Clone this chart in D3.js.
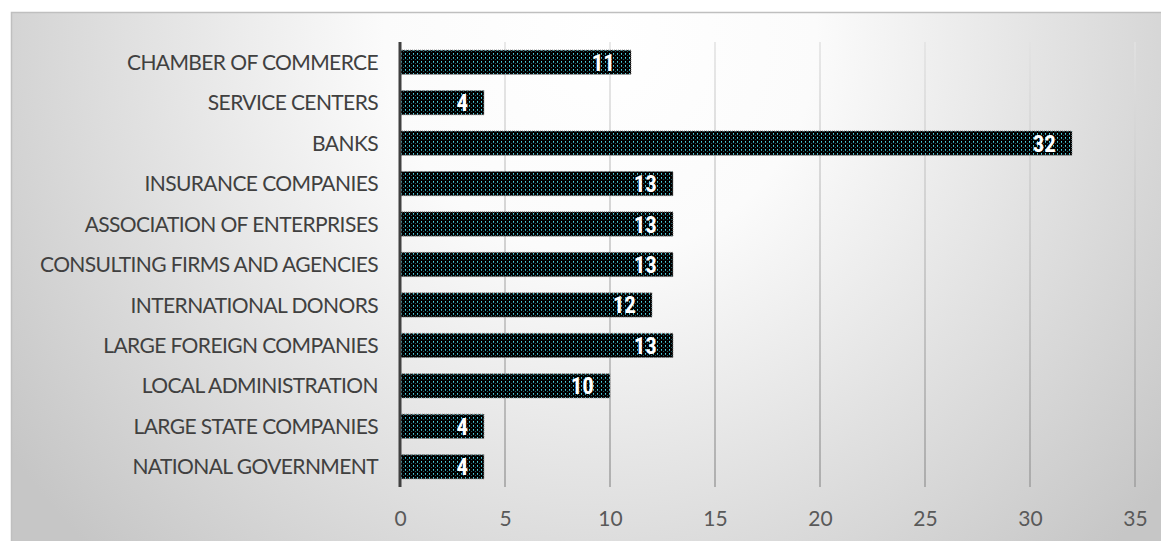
<!DOCTYPE html>
<html>
<head>
<meta charset="utf-8">
<script src="https://cdn.jsdelivr.net/npm/d3@7/dist/d3.min.js"></script>
<style>
  html, body { margin: 0; padding: 0; background: #ffffff; }
  svg { display: block; }
</style>
</head>
<body>
<svg id="chart" width="1161" height="541"></svg>
<script>
// Organisations and their counts, listed top to bottom
const categories = [
  "CHAMBER OF COMMERCE",
  "SERVICE CENTERS",
  "BANKS",
  "INSURANCE COMPANIES",
  "ASSOCIATION OF ENTERPRISES",
  "CONSULTING FIRMS AND AGENCIES",
  "INTERNATIONAL DONORS",
  "LARGE FOREIGN COMPANIES",
  "LOCAL ADMINISTRATION",
  "LARGE STATE COMPANIES",
  "NATIONAL GOVERNMENT"
];
const values = [11, 4, 32, 13, 13, 13, 12, 13, 10, 4, 4];
const xTicks = [0, 5, 10, 15, 20, 25, 30, 35];

const svg = d3.select("#chart");
const W = 1161, H = 541;
const font = "Lato, 'Open Sans', sans-serif";
const narrow = "'Liberation Sans Narrow', 'Roboto Condensed', Lato, sans-serif";

const defs = svg.append("defs");

// Soft radial shading of the chart area
const bg = defs.append("radialGradient")
  .attr("id", "bgGrad")
  .attr("gradientUnits", "userSpaceOnUse")
  .attr("cx", 600).attr("cy", 40).attr("r", 720);
bg.append("stop").attr("offset", 0).attr("stop-color", "#ffffff");
bg.append("stop").attr("offset", 0.3).attr("stop-color", "#fbfbfb");
bg.append("stop").attr("offset", 1).attr("stop-color", "#c6c6c6");

// Gridlines darken toward the bottom
const gg = defs.append("linearGradient")
  .attr("id", "gridGrad")
  .attr("gradientUnits", "userSpaceOnUse")
  .attr("x1", 0).attr("y1", 42).attr("x2", 0).attr("y2", 487);
gg.append("stop").attr("offset", 0).attr("stop-color", "#e2e2e2");
gg.append("stop").attr("offset", 1).attr("stop-color", "#9e9e9e");

// Dotted fill for bars: black with teal grid dots
const pat = defs.append("pattern")
  .attr("id", "dots")
  .attr("patternUnits", "userSpaceOnUse")
  .attr("width", 4).attr("height", 4);
pat.append("rect").attr("width", 4).attr("height", 4).attr("fill", "#000000");
pat.append("rect").attr("x", 1).attr("y", 1).attr("width", 1).attr("height", 1).attr("fill", "#4fd0de");
pat.append("rect").attr("x", 1).attr("y", 2).attr("width", 1).attr("height", 1).attr("fill", "#2f99a6");
pat.append("rect").attr("x", 3).attr("y", 3).attr("width", 1).attr("height", 1).attr("fill", "#1f5f68");

// Chart area
svg.append("rect")
  .attr("x", 11.5).attr("y", 12.5)
  .attr("width", W).attr("height", H)
  .attr("fill", "url(#bgGrad)")
  .attr("stroke", "#bfbfbf")
  .attr("stroke-width", 1.5);

const x = d3.scaleLinear().domain([0, 35]).range([400, 1135]);
const y = d3.scaleBand().domain(categories).range([42, 487])
  .paddingInner(0.4).paddingOuter(0.2);

// Vertical gridlines
svg.append("g")
  .selectAll("line")
  .data(xTicks.filter(t => t > 0))
  .join("line")
  .attr("x1", d => x(d)).attr("x2", d => x(d))
  .attr("y1", 42).attr("y2", 487)
  .attr("stroke", "url(#gridGrad)")
  .attr("stroke-width", 1.5);

// X axis tick labels
const xAxis = d3.axisBottom(x).tickValues(xTicks).tickSize(0).tickPadding(0);
const gx = svg.append("g").attr("transform", "translate(0,487)").call(xAxis);
gx.select(".domain").remove();
gx.selectAll("text")
  .attr("y", 39)
  .attr("dy", 0)
  .style("font-family", font)
  .style("font-size", "21px")
  .attr("fill", "#595959");

// Category labels
const yAxis = d3.axisLeft(y).tickSize(0).tickPadding(0);
const gy = svg.append("g").attr("transform", "translate(378,0)").call(yAxis);
gy.select(".domain").remove();
gy.selectAll("text")
  .attr("x", 0)
  .attr("dy", "0.36em")
  .style("font-family", font)
  .style("font-size", "21px")
  .style("letter-spacing", "-0.6px")
  .attr("fill", "#404040");

// Bars
svg.append("g")
  .selectAll("rect")
  .data(values)
  .join("rect")
  .attr("x", x(0))
  .attr("y", (d, i) => y(categories[i]))
  .attr("width", d => x(d) - x(0))
  .attr("height", y.bandwidth())
  .attr("fill", "url(#dots)")
  .attr("stroke", "#8c8c8c")
  .attr("stroke-width", 1)
  .attr("stroke-dasharray", "1,1");

// Value labels inside bar ends
svg.append("g")
  .selectAll("text")
  .data(values)
  .join("text")
  .attr("x", d => x(d) - 16)
  .attr("y", (d, i) => y(categories[i]) + y.bandwidth() / 2)
  .attr("dy", "0.37em")
  .attr("text-anchor", "end")
  .style("font-family", narrow)
  .style("font-size", "23px")
  .style("font-weight", "bold")
  .attr("fill", "#ffffff")
  .text(d => d);

// Value axis line
svg.append("line")
  .attr("x1", x(0)).attr("x2", x(0))
  .attr("y1", 42).attr("y2", 487)
  .attr("stroke", "#404040")
  .attr("stroke-width", 3);
</script>
</body>
</html>
